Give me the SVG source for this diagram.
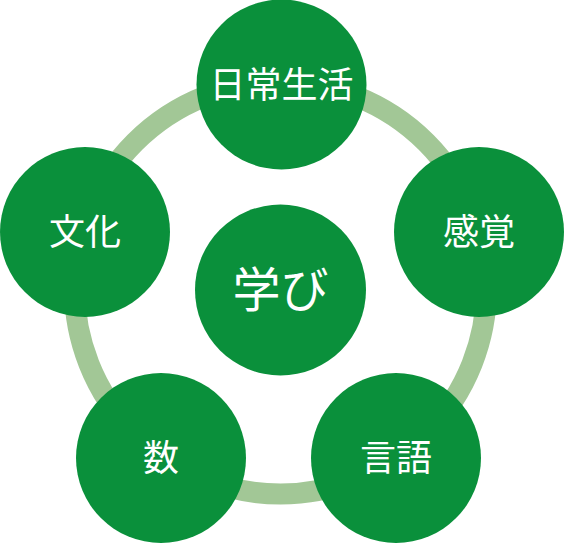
<svg xmlns="http://www.w3.org/2000/svg" width="564" height="544" viewBox="0 0 564 544">
  <style>
    .node { fill: #0a903b; }
    .label { fill: #ffffff; font-family: "Noto Sans CJK JP", "Noto Sans", sans-serif; font-size: 36px; text-anchor: middle; }
    .big { font-size: 48px; }
    .ring { fill: none; stroke: #a2c796; stroke-width: 21; }
  </style>
  <rect width="564" height="544" fill="#ffffff"/>
  <g id="connectors">
    <circle class="ring" cx="280.5" cy="288" r="206"/>
  </g>
  <g id="node-nichijo">
    <circle class="node" cx="281.5" cy="84.5" r="85"/>
    <text class="label" x="281.5" y="97.5">日常生活</text>
  </g>
  <g id="node-kankaku">
    <circle class="node" cx="479" cy="232" r="85"/>
    <text class="label" x="479" y="245">感覚</text>
  </g>
  <g id="node-gengo">
    <circle class="node" cx="396" cy="458" r="85"/>
    <text class="label" x="396" y="471">言語</text>
  </g>
  <g id="node-su">
    <circle class="node" cx="161" cy="458" r="85"/>
    <text class="label" x="161" y="471">数</text>
  </g>
  <g id="node-bunka">
    <circle class="node" cx="85" cy="232" r="85"/>
    <text class="label" x="85" y="245">文化</text>
  </g>
  <g id="node-manabi">
    <circle class="node" cx="280.5" cy="290" r="85.5"/>
    <text class="label big" x="280.5" y="307">学び</text>
  </g>
</svg>
